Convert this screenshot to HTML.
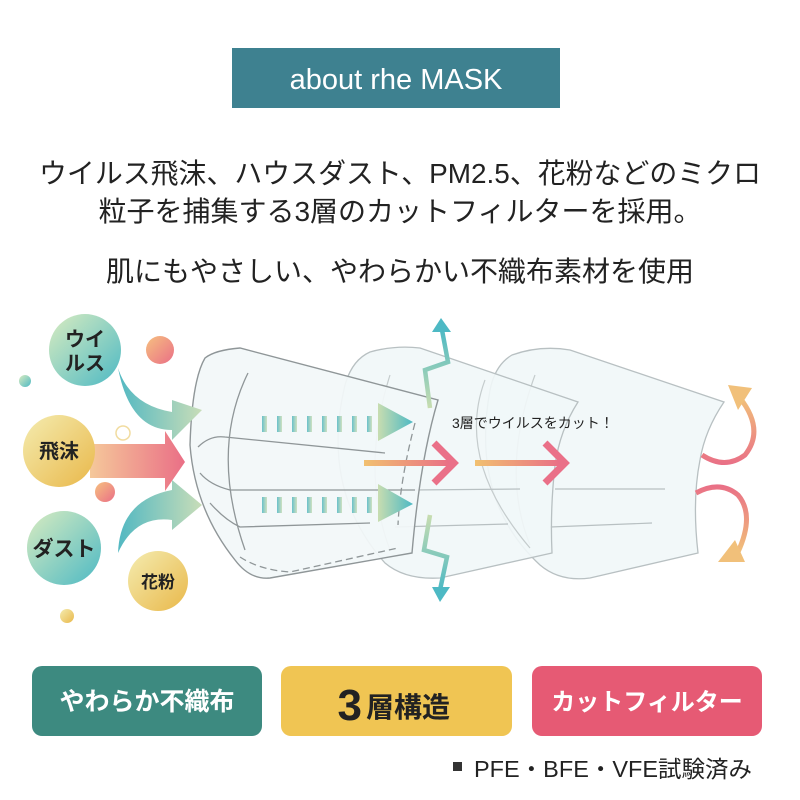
<!DOCTYPE html>
<html><head><meta charset="utf-8"><style>
html,body{margin:0;padding:0;background:#fff;}
svg{display:block}
text{font-family:"Liberation Sans","Noto Sans CJK JP",sans-serif;}
</style></head><body>
<svg width="800" height="800" viewBox="0 0 800 800" xmlns="http://www.w3.org/2000/svg">
<defs>
<linearGradient id="tg" x1="0" y1="0" x2="1" y2="1"><stop offset="0" stop-color="#d9ecc0"/><stop offset="1" stop-color="#4db9c4"/></linearGradient>
<linearGradient id="yg" x1="0" y1="0" x2="1" y2="1"><stop offset="0" stop-color="#f4ecb0"/><stop offset="1" stop-color="#e9b84a"/></linearGradient>
<linearGradient id="pg" x1="0" y1="0" x2="1" y2="1"><stop offset="0" stop-color="#f6c080"/><stop offset="1" stop-color="#ea6f86"/></linearGradient>
<linearGradient id="arT" x1="0" y1="0" x2="1" y2="0"><stop offset="0" stop-color="#52b8c2"/><stop offset="1" stop-color="#c8ddb8"/></linearGradient>
<linearGradient id="arP" x1="0" y1="0" x2="1" y2="0"><stop offset="0" stop-color="#f5c89a"/><stop offset="1" stop-color="#ea6f86"/></linearGradient>
<linearGradient id="triG" x1="0" y1="0" x2="1" y2="0"><stop offset="0" stop-color="#c8ddb0"/><stop offset="1" stop-color="#4db9c4"/></linearGradient>
<linearGradient id="lineG1" gradientUnits="userSpaceOnUse" x1="364" y1="0" x2="450" y2="0"><stop offset="0" stop-color="#f1c070"/><stop offset="1" stop-color="#e96f86"/></linearGradient>
<linearGradient id="lineG2" gradientUnits="userSpaceOnUse" x1="475" y1="0" x2="561" y2="0"><stop offset="0" stop-color="#f1c070"/><stop offset="1" stop-color="#e96f86"/></linearGradient>
<linearGradient id="zz" gradientUnits="userSpaceOnUse" x1="0" y1="330" x2="0" y2="408"><stop offset="0" stop-color="#4db9c4"/><stop offset="1" stop-color="#c8ddb0"/></linearGradient>
<linearGradient id="zz2" gradientUnits="userSpaceOnUse" x1="0" y1="515" x2="0" y2="590"><stop offset="0" stop-color="#c8ddb0"/><stop offset="1" stop-color="#4db9c4"/></linearGradient>
<linearGradient id="cu" gradientUnits="userSpaceOnUse" x1="0" y1="398" x2="0" y2="465"><stop offset="0" stop-color="#f1c07a"/><stop offset="1" stop-color="#e96f86"/></linearGradient>
<linearGradient id="cu2" gradientUnits="userSpaceOnUse" x1="0" y1="485" x2="0" y2="552"><stop offset="0" stop-color="#e96f86"/><stop offset="1" stop-color="#f1c07a"/></linearGradient>
</defs>

<rect x="232" y="48" width="328" height="60" fill="#3e8190"/>
<text x="396" y="89" font-size="29" fill="#fff" text-anchor="middle">about rhe MASK</text>

<text x="400" y="183" font-size="28" fill="#222" text-anchor="middle" textLength="722" lengthAdjust="spacingAndGlyphs">ウイルス飛沫、ハウスダスト、PM2.5、花粉などのミクロ</text>
<text x="400" y="221" font-size="28" fill="#222" text-anchor="middle">粒子を捕集する3層のカットフィルターを採用。</text>
<text x="400" y="281" font-size="28" fill="#222" text-anchor="middle">肌にもやさしい、やわらかい不織布素材を使用</text>

<!-- mask 3 -->
<path d="M512,355 Q540,345 570,350 L724,402 Q705,430 700,460 Q692,500 698,553 L590,578 Q560,582 540,565 Q470,500 490,390 Q495,365 512,355 Z" fill="#f1f7f8" fill-opacity="0.9" stroke="#b8c0c2" stroke-width="1.3"/>
<path d="M535,375 Q500,470 530,545" fill="none" stroke="#c5cccd" stroke-width="1.2"/>
<line x1="555" y1="489" x2="665" y2="489" stroke="#b8c0c2" stroke-width="1.2"/>
<line x1="550" y1="527" x2="652" y2="523" stroke="#b8c0c2" stroke-width="1.2"/>
<!-- mask 2 -->
<path d="M370,352 Q395,345 420,348 L578,402 Q560,430 555,465 Q550,510 552,553 L440,578 Q405,580 385,563 Q320,490 345,385 Q352,360 370,352 Z" fill="#f1f7f8" fill-opacity="0.9" stroke="#b8c0c2" stroke-width="1.3"/>
<path d="M390,375 Q360,470 390,550" fill="none" stroke="#c5cccd" stroke-width="1.2"/>
<path d="M485,380 Q455,460 530,548" fill="none" stroke="#c5cccd" stroke-width="1.2"/>
<line x1="412" y1="490" x2="520" y2="489" stroke="#b8c0c2" stroke-width="1.2"/>
<line x1="395" y1="527" x2="508" y2="524" stroke="#b8c0c2" stroke-width="1.2"/>
<!-- mask 1 -->
<path d="M205,358 Q215,350 240,348 L438,400 Q420,460 412,553 L270,578 Q250,580 235,560 Q195,510 190,445 Q192,380 205,358 Z" fill="#f2f7f8" fill-opacity="0.92" stroke="#8f9698" stroke-width="1.4"/>
<path d="M248,373 Q210,450 245,550" fill="none" stroke="#8f9698" stroke-width="1.3"/>
<path d="M198,447 Q210,435 225,437 L385,453" fill="none" stroke="#8f9698" stroke-width="1.3"/>
<path d="M200,473 Q210,485 230,490 L415,490" fill="none" stroke="#8f9698" stroke-width="1.3"/>
<path d="M210,503 Q225,520 240,527 L370,523" fill="none" stroke="#8f9698" stroke-width="1.3"/>
<path d="M240,557 Q260,570 290,572 L398,548" fill="none" stroke="#8f9698" stroke-width="1.3" stroke-dasharray="7,4"/>
<path d="M415,423 Q400,480 398,525" fill="none" stroke="#8f9698" stroke-width="1.3" stroke-dasharray="7,4"/>

<!-- dashed bars -->
<g fill="url(#arT)" opacity="0.85">
<rect x="262" y="416" width="5" height="16"/><rect x="277" y="416" width="5" height="16"/><rect x="292" y="416" width="5" height="16"/><rect x="307" y="416" width="5" height="16"/><rect x="322" y="416" width="5" height="16"/><rect x="337" y="416" width="5" height="16"/><rect x="352" y="416" width="5" height="16"/><rect x="367" y="416" width="5" height="16"/>
<rect x="262" y="497" width="5" height="16"/><rect x="277" y="497" width="5" height="16"/><rect x="292" y="497" width="5" height="16"/><rect x="307" y="497" width="5" height="16"/><rect x="322" y="497" width="5" height="16"/><rect x="337" y="497" width="5" height="16"/><rect x="352" y="497" width="5" height="16"/><rect x="367" y="497" width="5" height="16"/>
</g>
<polygon points="378,403 413,422 378,441" fill="url(#triG)"/>
<polygon points="378,484 413,504 378,522" fill="url(#triG)"/>

<!-- orange/pink arrows -->
<rect x="364" y="460" width="88" height="6" fill="url(#lineG1)"/>
<polyline points="434,443 454,463 434,483" fill="none" stroke="#ea7088" stroke-width="7"/>
<rect x="475" y="460" width="88" height="6" fill="url(#lineG2)"/>
<polyline points="545,443 565,463 545,483" fill="none" stroke="#ea7088" stroke-width="7"/>

<text x="452" y="428" font-size="14" fill="#222">3層でウイルスをカット！</text>

<!-- zigzags -->
<polyline points="430,408 425,370 448,362 442,330" fill="none" stroke="url(#zz)" stroke-width="4.5"/>
<polygon points="432,332 451,332 441,318" fill="#4db9c4"/>
<polyline points="430,515 424,550 447,557 440,590" fill="none" stroke="url(#zz2)" stroke-width="4.5"/>
<polygon points="432,587 450,587 440,602" fill="#4db9c4"/>

<!-- curved side arrows -->
<path d="M702,455 Q725,470 745,455 Q765,430 740,398" fill="none" stroke="url(#cu)" stroke-width="5"/>
<polygon points="728,385 752,388 738,410" fill="#f1c07a"/>
<path d="M696,493 Q720,480 738,495 Q755,515 738,552" fill="none" stroke="url(#cu2)" stroke-width="5"/>
<polygon points="718,562 745,562 735,540" fill="#f1c07a"/>

<!-- big arrows left -->
<path d="M118,368 Q130,405 172,412 L172,400 L202,410 L172,440 L172,430 Q130,430 118,368 Z" fill="url(#arT)"/>
<path d="M90,444 L165,444 L165,431 L185,462 L165,491 L165,478 L90,478 Z" fill="url(#arP)"/>
<path d="M118,553 Q120,500 172,490 L172,480 L202,505 L172,530 L172,520 Q135,515 118,553 Z" fill="url(#arT)"/>

<!-- bubbles -->
<circle cx="85" cy="350" r="36" fill="url(#tg)"/>
<text x="85" y="346" font-size="20" font-weight="bold" fill="#222" text-anchor="middle">ウイ</text>
<text x="85" y="370" font-size="20" font-weight="bold" fill="#222" text-anchor="middle">ルス</text>
<circle cx="59" cy="451" r="36" fill="url(#yg)"/>
<text x="59" y="458" font-size="20" font-weight="bold" fill="#222" text-anchor="middle">飛沫</text>
<circle cx="64" cy="548" r="37" fill="url(#tg)"/>
<text x="64" y="556" font-size="21" font-weight="bold" fill="#222" text-anchor="middle">ダスト</text>
<circle cx="158" cy="581" r="30" fill="url(#yg)"/>
<text x="158" y="588" font-size="17" font-weight="bold" fill="#222" text-anchor="middle">花粉</text>
<circle cx="160" cy="350" r="14" fill="url(#pg)"/>
<circle cx="105" cy="492" r="10" fill="url(#pg)"/>
<circle cx="25" cy="381" r="6" fill="url(#tg)"/>
<circle cx="67" cy="616" r="7" fill="url(#yg)"/>
<circle cx="123" cy="433" r="7" fill="#fff" stroke="#f1dca0" stroke-width="1.5"/>

<!-- bottom boxes -->
<rect x="32" y="666" width="230" height="70" rx="10" fill="#3d8a80"/>
<text x="147" y="710" font-size="25" font-weight="bold" fill="#fff" text-anchor="middle">やわらか不織布</text>
<rect x="281" y="666" width="231" height="70" rx="10" fill="#f0c553"/>
<text x="362" y="720" font-size="44" font-weight="bold" fill="#222" text-anchor="end">3</text>
<text x="366" y="717" font-size="28" font-weight="bold" fill="#222">層構造</text>
<rect x="532" y="666" width="230" height="70" rx="10" fill="#e65a74"/>
<text x="647" y="710" font-size="24" font-weight="bold" fill="#fff" text-anchor="middle">カットフィルター</text>

<rect x="453" y="762" width="9" height="9" fill="#333"/>
<text x="474" y="777" font-size="23" fill="#222" textLength="278" lengthAdjust="spacingAndGlyphs">PFE・BFE・VFE試験済み</text>
</svg>
</body></html>
